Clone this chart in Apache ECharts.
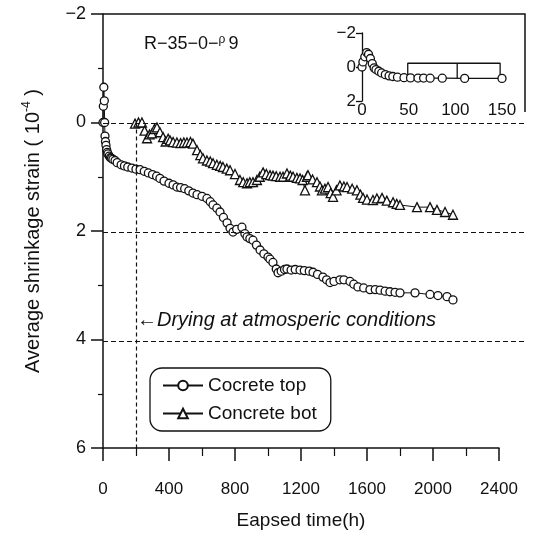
<!DOCTYPE html>
<html><head><meta charset="utf-8">
<script src="https://cdn.jsdelivr.net/npm/echarts@6/dist/echarts.min.js"></script>
<style>html,body{margin:0;padding:0;background:#fff}#c{width:549px;height:535px}</style>
</head><body><div id="c"></div>
<script>
// ---- data (time in h, strain in 1e-4) ----
const topTime   = [0,2,5,8,10,12,15,18,22,26,30,38,45,52,60,73,86,110,130,150,175,200,225,250,275,300,325,345,370,400,425,448,470,495,520,545,570,600,630,650,667,690,709,730,752,770,788,810,842,860,873,890,909,930,952,975,1000,1012,1030,1050,1061,1080,1100,1115,1140,1165,1194,1220,1250,1273,1300,1333,1355,1376,1400,1436,1460,1497,1520,1545,1580,1618,1650,1679,1710,1739,1770,1800,1891,1982,2030,2085,2121];
const topStrain = [0,-0.3,-0.65,-0.4,0,0.25,0.35,0.42,0.5,0.55,0.58,0.62,0.65,0.66,0.68,0.7,0.74,0.78,0.8,0.82,0.84,0.86,0.87,0.9,0.93,0.96,0.99,1.03,1.08,1.12,1.15,1.19,1.2,1.22,1.26,1.3,1.33,1.36,1.4,1.46,1.52,1.58,1.65,1.75,1.85,1.95,2.02,1.97,1.93,2.05,2.11,2.14,2.17,2.26,2.35,2.42,2.48,2.52,2.58,2.7,2.77,2.74,2.71,2.7,2.72,2.71,2.72,2.73,2.74,2.76,2.8,2.85,2.9,2.95,2.93,2.9,2.9,2.93,2.98,3.03,3.05,3.08,3.08,3.09,3.11,3.12,3.13,3.14,3.14,3.17,3.19,3.21,3.27];
const botTime   = [194,215,236,252,267,282,297,312,327,345,364,380,395,406,425,448,470,490,509,530,545,570,590,606,630,650,667,690,710,727,750,770,800,830,850,873,890,909,933,950,970,990,1012,1030,1050,1073,1091,1115,1135,1152,1175,1194,1210,1224,1236,1242,1270,1297,1315,1327,1345,1364,1380,1394,1415,1436,1460,1479,1510,1539,1560,1576,1600,1636,1660,1691,1720,1758,1780,1800,1903,1982,2024,2073,2121];
const botStrain = [0.02,0,0,0.15,0.29,0.22,0.2,0.12,0.09,0.18,0.27,0.35,0.3,0.33,0.36,0.37,0.38,0.37,0.37,0.36,0.39,0.51,0.6,0.66,0.7,0.72,0.75,0.78,0.8,0.82,0.85,0.88,0.95,1.06,1.1,1.12,1.1,1.1,1.06,1.0,0.92,0.95,0.97,0.98,0.99,1.0,1.0,0.94,0.98,1.0,1.02,1.03,1.06,1.25,1.0,0.97,1.05,1.1,1.18,1.25,1.22,1.19,1.3,1.37,1.25,1.16,1.18,1.19,1.22,1.25,1.33,1.39,1.42,1.43,1.4,1.39,1.44,1.47,1.5,1.52,1.56,1.56,1.61,1.65,1.7];
const insetTime   = [0,1,3,5,7,9,11,13,15,18,21,25,29,33,38,45,52,60,66,73,86,110,150];
const insetStrain = [0,-0.3,-0.6,-0.85,-0.75,-0.5,-0.2,0.05,0.15,0.25,0.35,0.45,0.52,0.56,0.6,0.63,0.64,0.65,0.65,0.66,0.66,0.67,0.67];
const insetBracketTime   = [49,49,102,102,102,148,148];
const insetBracketStrain = [0.67,-0.22,-0.22,0.67,-0.22,-0.22,0.67];
const xTicks = [0,400,800,1200,1600,2000,2400];
const yTicks = [-2,0,2,4,6];
const gridLevels = [0,2,4];
const dryingTime = 200;
const seriesNames = ['Cocrete top','Concrete bot'];
const specimen = 'R\u221235\u22120\u2212';

const zip = (a,b)=>a.map((v,i)=>[v,b[i]]);
const FONT = "'Liberation Sans', Arial, sans-serif";
const minus = v => String(v).replace('-', '\u2212');

const chart = echarts.init(document.getElementById('c'), null, {renderer:'canvas'});
const black = '#111';
const option = {
  animation:false,
  backgroundColor:'#fff',
  textStyle:{fontFamily:FONT,color:black},
  title:{
    text:specimen + '{s|\u03c1}9', left:139, top:29,
    textStyle:{fontFamily:FONT,fontSize:18,fontWeight:'normal',color:black,
      rich:{s:{fontSize:12,fontFamily:FONT,color:black,verticalAlign:'top',padding:[0,3,8,0]}}}
  },
  legend:{
    orient:'vertical', left:150, top:368,
    data:seriesNames,
    itemWidth:40, itemHeight:12, itemGap:9,
    padding:[8,14,8,12],
    borderColor:black, borderWidth:1.3, borderRadius:12,
    textStyle:{fontFamily:FONT,fontSize:19,color:black}
  },
  grid:[
    {left:103,right:50,top:14,bottom:85},
    {left:362,right:47,top:33,bottom:434},
    {left:103,right:24,top:14,bottom:85}
  ],
  xAxis:[
    {gridIndex:0,type:'value',min:xTicks[0],max:xTicks[xTicks.length-1],interval:400,
     name:'Eapsed time(h)',nameLocation:'middle',nameGap:63,
     nameTextStyle:{fontFamily:FONT,fontSize:19,color:black},
     axisLine:{show:true,onZero:false,lineStyle:{color:black,width:1.5}},
     axisTick:{show:true,inside:false,length:13,lineStyle:{color:black,width:1.5}},
     minorTick:{show:true,splitNumber:2,length:8,lineStyle:{color:black,width:1.2}},
     axisLabel:{margin:33,fontSize:17,color:black,fontFamily:FONT,formatter:v=>String(v)},
     splitLine:{show:false}},
    {gridIndex:1,type:'value',min:0,max:150,interval:50,
     axisLine:{show:false},axisTick:{show:false},
     axisLabel:{margin:1,fontSize:17,color:black,fontFamily:FONT,formatter:v=>String(v)},
     splitLine:{show:false}},
    {gridIndex:2,type:'value',min:0,max:1,show:false,splitLine:{show:false}}
  ],
  yAxis:[
    {gridIndex:0,type:'value',inverse:true,min:yTicks[0],max:yTicks[yTicks.length-1],interval:2,
     name:'Average shrinkage strain ( 10{sup|-4} )',nameLocation:'middle',nameGap:58,
     nameTextStyle:{fontFamily:FONT,fontSize:20,color:black,
       rich:{sup:{fontSize:12,fontFamily:FONT,color:black,verticalAlign:'top',padding:[0,0,12,0]}}},
     axisLine:{show:true,onZero:false,lineStyle:{color:black,width:1.5}},
     axisTick:{show:true,length:12,lineStyle:{color:black,width:1.5}},
     minorTick:{show:true,splitNumber:2,length:5,lineStyle:{color:black,width:1.2}},
     axisLabel:{margin:17,fontSize:18,color:black,fontFamily:FONT,formatter:minus},
     splitLine:{show:false}},
    {gridIndex:1,type:'value',inverse:true,min:-2,max:2,interval:2,
     axisLine:{show:true,onZero:false,lineStyle:{color:black,width:1.3}},
     axisTick:{show:true,length:6,lineStyle:{color:black,width:1.3}},
     axisLabel:{margin:6,fontSize:17,color:black,fontFamily:FONT,formatter:minus},
     splitLine:{show:false}},
    {gridIndex:2,type:'value',inverse:true,min:yTicks[0],max:yTicks[yTicks.length-1],show:false,splitLine:{show:false}}
  ],
  series:[
    {name:seriesNames[0],type:'line',xAxisIndex:0,yAxisIndex:0,data:zip(topTime,topStrain),
     symbol:'circle',symbolSize:8,showAllSymbol:true,
     lineStyle:{color:black,width:1},
     itemStyle:{color:'#fff',borderColor:black,borderWidth:1.3},
     markLine:{silent:true,symbol:'none',label:{show:false},
       lineStyle:{color:black,type:[4,3],width:1.2},
       data:[[{coord:[dryingTime,0]},{coord:[dryingTime,6]}]]}},
    {name:seriesNames[1],type:'line',xAxisIndex:0,yAxisIndex:0,data:zip(botTime,botStrain),
     symbol:'triangle',symbolSize:9,showAllSymbol:true,
     lineStyle:{color:black,width:1},
     itemStyle:{color:'#fff',borderColor:black,borderWidth:1.3}},
    {type:'line',xAxisIndex:1,yAxisIndex:1,data:zip(insetTime,insetStrain),
     symbol:'circle',symbolSize:8,showAllSymbol:true,
     lineStyle:{color:black,width:1.2},
     itemStyle:{color:'#fff',borderColor:black,borderWidth:1.3}},
    {type:'line',xAxisIndex:1,yAxisIndex:1,data:zip(insetBracketTime,insetBracketStrain),
     symbol:'none',lineStyle:{color:black,width:1.3}},
    {type:'line',xAxisIndex:2,yAxisIndex:2,data:[],
     markLine:{silent:true,symbol:'none',label:{show:false},
       lineStyle:{color:black,type:[5,3],width:1.1},
       data:gridLevels.map(v=>({yAxis:v}))}}
  ]
};
chart.setOption(option);
// frame (top and right border) and annotation anchored to the axes
const p0 = chart.convertToPixel({gridIndex:0},[0,-2]);
const pA = chart.convertToPixel({gridIndex:0},[dryingTime,3.7]);
chart.setOption({graphic:[
  {type:'polyline',shape:{points:[[p0[0],p0[1]],[525,p0[1]],[525,112]]},style:{stroke:black,lineWidth:1.5,fill:null}},
  {type:'text',left:pA[0]+1,top:pA[1]-13,
   style:{text:'\u2190Drying at atmosperic conditions',font:"italic 20px "+FONT,fill:black}}
]});
</script>
</body></html>
